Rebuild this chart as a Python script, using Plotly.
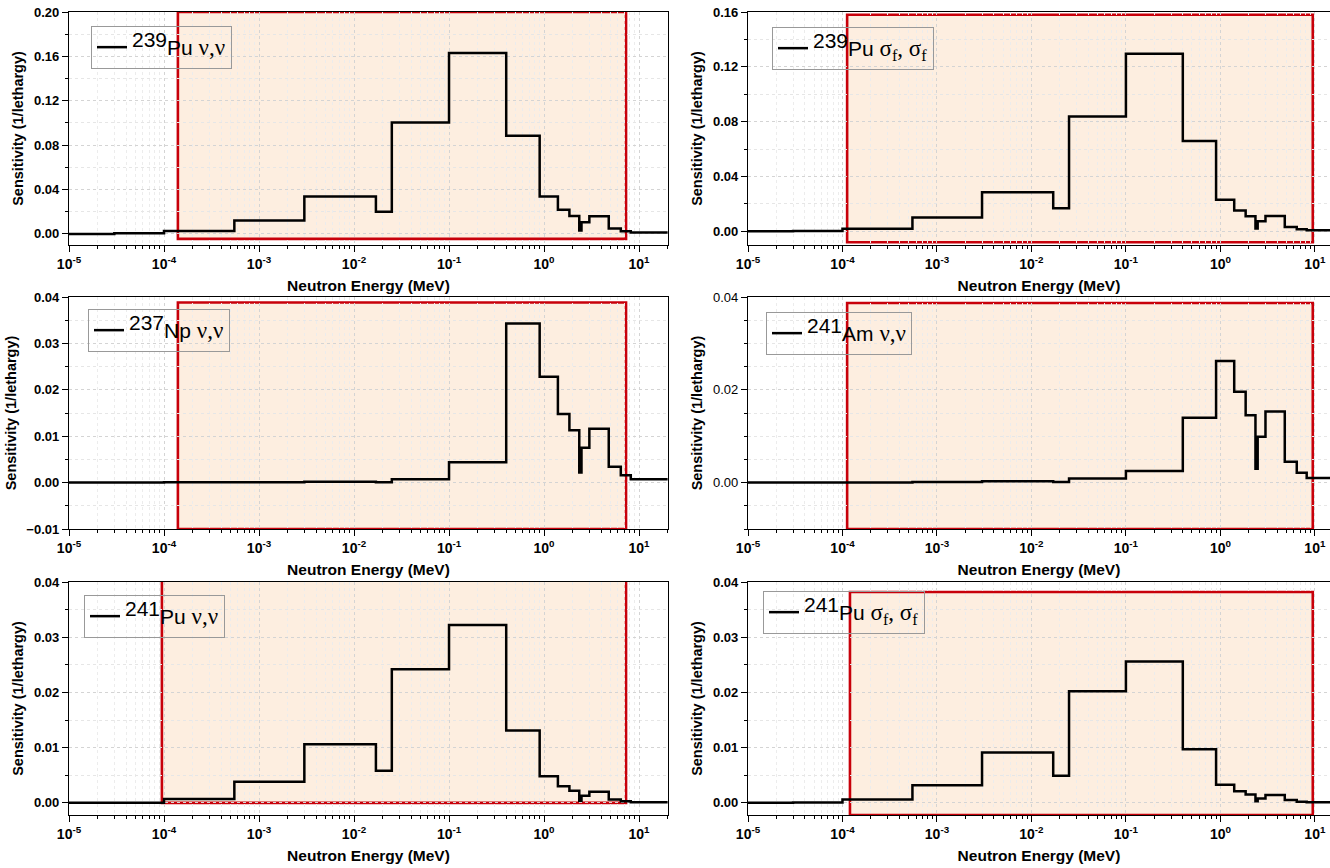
import plotly.graph_objects as go
from plotly.subplots import make_subplots

# Group boundaries (MeV)
edges = [1e-5, 3e-5, 1e-4, 5.5e-4, 3e-3, 1.7e-2, 2.5e-2, 0.1, 0.4, 0.9, 1.4,
         1.85, 2.35, 2.48, 3.0, 4.8, 6.43, 8.19, 20.0]

# Sensitivity per group (1/lethargy)
pu239_nu = [0.0, 0.0005, 0.0027, 0.012, 0.0337, 0.020, 0.1005, 0.163, 0.0884, 0.0337,
            0.0217, 0.0162, 0.003, 0.0105, 0.016, 0.0048, 0.0024, 0.0012]
pu239_fis = [0.0, 0.0002, 0.0019, 0.010, 0.0285, 0.0168, 0.0838, 0.1296, 0.0658, 0.0231,
             0.0151, 0.011, 0.002, 0.0073, 0.0112, 0.0032, 0.0015, 0.0007]
np237_nu = [0.0, 0.0, 0.00005, 0.0001, 0.0002, 0.0001, 0.0007, 0.0044, 0.0343, 0.0228,
            0.0148, 0.0113, 0.0022, 0.0075, 0.0116, 0.0034, 0.0016, 0.0007]
am241_nu = [0.0, 0.0, 0.0, 0.00015, 0.0003, 0.00015, 0.0009, 0.0025, 0.0140, 0.0262,
            0.0196, 0.0145, 0.003, 0.0099, 0.0153, 0.0045, 0.0021, 0.001]
pu241_nu = [0.0, 0.0, 0.0007, 0.0038, 0.0106, 0.0058, 0.0242, 0.0322, 0.0131, 0.0048,
            0.003, 0.0022, 0.0004, 0.0013, 0.002, 0.0006, 0.0003, 0.0001]
pu241_fis = [0.0, 0.00005, 0.0006, 0.0032, 0.0091, 0.0049, 0.0202, 0.0256, 0.0097, 0.0033,
             0.0021, 0.0015, 0.0003, 0.0008, 0.0014, 0.0005, 0.0002, 0.0001]

x_tickvals = [1e-5, 1e-4, 1e-3, 1e-2, 1e-1, 1e0, 1e1]
x_ticktext = ["10<sup>-5</sup>", "10<sup>-4</sup>", "10<sup>-3</sup>", "10<sup>-2</sup>",
              "10<sup>-1</sup>", "10<sup>0</sup>", "10<sup>1</sup>"]

SERIF = "Liberation Serif"
SUP = '<sup><span style="font-size:21px">{}</span></sup>'
GREEK = '<span style="font-family:%s;font-size:23px">' % SERIF
labels = [
    SUP.format("239") + 'Pu ' + GREEK + 'ν,ν</span>',
    SUP.format("239") + 'Pu ' + GREEK + 'σ<sub>f</sub>, σ<sub>f</sub></span>',
    SUP.format("237") + 'Np ' + GREEK + 'ν,ν</span>',
    SUP.format("241") + 'Am ' + GREEK + 'ν,ν</span>',
    SUP.format("241") + 'Pu ' + GREEK + 'ν,ν</span>',
    SUP.format("241") + 'Pu ' + GREEK + 'σ<sub>f</sub>, σ<sub>f</sub></span>',
]
series = [pu239_nu, pu239_fis, np237_nu, am241_nu, pu241_nu, pu241_fis]

# Highlighted regions: (xmin, xmax, ymin, ymax)
regions = [
    (1.4e-4, 7.3, -0.0045, 0.200),
    (1.12e-4, 9.5, -0.008, 0.158),
    (1.4e-4, 7.3, -0.010, 0.0388),
    (1.12e-4, 9.5, -0.010, 0.0387),
    (9.5e-5, 7.3, 0.0, 0.0409),
    (1.2e-4, 9.5, -0.0022, 0.0382),
]
y_ranges = [(-0.01, 0.20), (-0.01, 0.16), (-0.01, 0.04), (-0.01, 0.04), (-0.0022, 0.04), (-0.0022, 0.04)]
y_dticks = [0.04, 0.04, 0.01, 0.02, 0.01, 0.01]
y_minor = [0.02, 0.02, 0.005, 0.005, 0.005, 0.005]

W, H = 1330, 868
col_x = [(69 / W, 668 / W), (748 / W, 1.0)]
row_y = [(1 - 245 / H, 1 - 12 / H), (1 - 529 / H, 1 - 297 / H), (1 - 815 / H, 1 - 582 / H)]
x_log_ranges = [(-5, 1.305), (-5, 1.16)]
legend_pos = [(91, 26), (772, 27), (88, 309), (766, 312), (84, 595), (763, 591)]

FONT = "Liberation Sans, Arial, sans-serif"
fig = make_subplots(rows=3, cols=2)

for i, vals in enumerate(series):
    r, c = i // 2 + 1, i % 2 + 1
    lname = "legend" if i == 0 else "legend%d" % (i + 1)
    xs = list(edges)
    ys = list(vals) + [vals[-1]]
    fig.add_trace(go.Scatter(x=xs, y=ys, mode="lines", line=dict(color="black", width=2.5, shape="hv"),
                             name=labels[i], legend=lname, showlegend=True), row=r, col=c)
    x0, x1, y0, y1 = regions[i]
    fig.add_shape(type="rect", x0=x0, x1=x1, y0=y0, y1=y1, row=r, col=c, layer="below",
                  line=dict(color="#C8000A", width=2.6), fillcolor="#FDEEE0")
    lx, ly = legend_pos[i]
    fig.update_layout(**{lname: dict(x=lx / W, y=1 - ly / H, xanchor="left", yanchor="top",
                                     bgcolor="rgba(0,0,0,0)", bordercolor="#999999", borderwidth=1,
                                     font=dict(family=FONT, size=21, color="black"),
                                     itemwidth=30, tracegroupgap=0)})
    xdom = col_x[c - 1]
    ydom = row_y[r - 1]
    fig.update_xaxes(type="log", range=list(x_log_ranges[c - 1]), domain=list(xdom),
                     tickvals=x_tickvals, ticktext=x_ticktext, automargin=False,
                     showline=True, linecolor="black", linewidth=1.3, mirror=True,
                     ticks="outside", ticklen=6, tickwidth=1.3, tickcolor="black",
                     tickfont=dict(family=FONT, size=14, color="black", weight="bold"),
                     showgrid=True, gridcolor="#d4d4d4", griddash="dot", gridwidth=1,
                     minor=dict(dtick="D1", ticks="outside", ticklen=3, tickcolor="black",
                                showgrid=True, gridcolor="#ececec", griddash="dot"),
                     zeroline=False,
                     title=dict(text="<b>Neutron Energy (MeV)</b>", standoff=9,
                                font=dict(family=FONT, size=15.5, color="black")),
                     row=r, col=c)
    yr = y_ranges[i]
    fig.update_yaxes(range=list(yr), domain=list(ydom), dtick=y_dticks[i], tick0=0, tickformat=".2f",
                     automargin=False,
                     showline=True, linecolor="black", linewidth=1.3, mirror=True,
                     ticks="outside", ticklen=6, tickwidth=1.3, tickcolor="black",
                     tickfont=dict(family=FONT, size=13, color="black",
                                   weight="normal" if i == 3 else "bold"),
                     showgrid=True, gridcolor="#d4d4d4", griddash="dot", gridwidth=1,
                     minor=dict(dtick=y_minor[i], tick0=0, ticks="outside", ticklen=3, tickcolor="black",
                                showgrid=True, gridcolor="#e6e6e6", griddash="dot"),
                     zeroline=False,
                     title=dict(text="<b>Sensitivity (1/lethargy)</b>", standoff=6,
                                font=dict(family=FONT, size=14.5, color="black")),
                     row=r, col=c)

fig.update_layout(width=W, height=H, margin=dict(l=0, r=0, t=0, b=0, autoexpand=False),
                  paper_bgcolor="white", plot_bgcolor="white",
                  font=dict(family=FONT, color="black"))

fig.write_html("out.html", config={"displayModeBar": False},
               post_script="document.body.style.margin='0';document.body.style.overflow='hidden';")
